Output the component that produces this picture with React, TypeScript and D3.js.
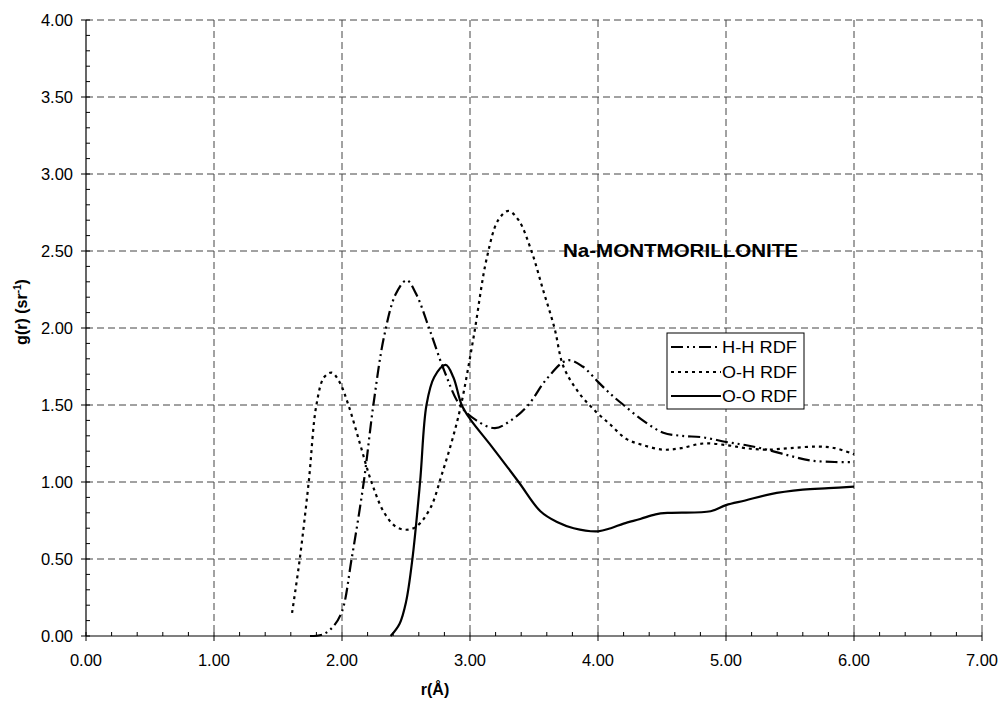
import React, { useEffect, useRef } from 'react';
import * as d3 from 'd3';

// r (Å) / g(r)
const hhR = [1.75, 1.85, 1.93, 2.0, 2.075, 2.17, 2.245, 2.33, 2.42, 2.505, 2.58, 2.68, 2.8, 2.92, 3.05, 3.195, 3.32, 3.455, 3.6, 3.76, 3.88, 4.0, 4.1, 4.2, 4.35, 4.51, 4.65, 4.82, 5.0, 5.15, 5.32, 5.5, 5.66, 5.85, 6.0];
const hhG = [0.0, 0.01, 0.06, 0.16, 0.5, 1.0, 1.5, 1.95, 2.22, 2.31, 2.22, 2.0, 1.72, 1.5, 1.4, 1.35, 1.4, 1.5, 1.67, 1.79, 1.75, 1.65, 1.57, 1.5, 1.4, 1.32, 1.3, 1.29, 1.26, 1.24, 1.21, 1.17, 1.14, 1.13, 1.13];

const ohR = [1.61, 1.67, 1.74, 1.8, 1.86, 1.92, 1.98, 2.05, 2.14, 2.23, 2.33, 2.42, 2.5, 2.58, 2.69, 2.78, 2.86, 2.93, 3.03, 3.13, 3.22, 3.3, 3.38, 3.48, 3.57, 3.66, 3.73, 3.85, 3.98, 4.1, 4.22, 4.35, 4.51, 4.65, 4.82, 5.0, 5.15, 5.32, 5.5, 5.71, 5.85, 6.0];
const ohG = [0.15, 0.5, 1.0, 1.5, 1.68, 1.71, 1.65, 1.5, 1.25, 1.0, 0.8, 0.71, 0.69, 0.71, 0.83, 1.05, 1.27, 1.5, 1.95, 2.45, 2.7, 2.76, 2.7, 2.5, 2.25, 2.0, 1.75, 1.58, 1.46, 1.37, 1.28, 1.24, 1.21, 1.22, 1.25, 1.24, 1.22, 1.21, 1.22, 1.23, 1.22, 1.18];

const ooR = [2.38, 2.45, 2.5, 2.55, 2.61, 2.66, 2.72, 2.81, 2.87, 2.935, 3.0, 3.17, 3.38, 3.55, 3.68, 3.81, 4.0, 4.1, 4.2, 4.33, 4.45, 4.56, 4.88, 5.0, 5.15, 5.34, 5.6, 5.8, 6.0];
const ooG = [0.0, 0.08, 0.22, 0.5, 1.0, 1.5, 1.68, 1.76, 1.68, 1.5, 1.41, 1.23, 1.0, 0.81, 0.74, 0.7, 0.68, 0.7, 0.73, 0.76, 0.79, 0.8, 0.81, 0.85, 0.88, 0.92, 0.95, 0.96, 0.97];

const seriesNames = ['H-H RDF', 'O-H RDF', 'O-O RDF'];
const xTicks = [0, 1, 2, 3, 4, 5, 6, 7];
const yTicks = [0, 0.5, 1, 1.5, 2, 2.5, 3, 3.5, 4];

const W = 1002;
const H = 703;

const App: React.FC = () => {
  const svgRef = useRef<SVGSVGElement>(null);

  useEffect(() => {
    if (!svgRef.current) return;
    const svg = d3.select(svgRef.current);
    svg.selectAll('*').remove();

    const x = d3.scaleLinear().domain([0, 7]).range([86, 982]);
    const y = d3.scaleLinear().domain([0, 4]).range([636, 20]);
    const fmt = d3.format('.2f');
    const font = "'Liberation Sans', Arial, Helvetica, sans-serif";

    svg.append('rect').attr('width', W).attr('height', H).style('fill', '#fff');

    // grid
    const grid = svg.append('g');
    grid.selectAll('.gx')
      .data(xTicks.slice(1))
      .enter()
      .append('line')
      .attr('x1', (d) => x(d))
      .attr('x2', (d) => x(d))
      .attr('y1', y(4))
      .attr('y2', y(0))
      .style('stroke', '#444')
      .style('stroke-width', 1)
      .style('stroke-dasharray', '7,4');
    grid.selectAll('.gy')
      .data(yTicks.slice(1))
      .enter()
      .append('line')
      .attr('x1', x(0))
      .attr('x2', x(7))
      .attr('y1', (d) => y(d))
      .attr('y2', (d) => y(d))
      .style('stroke', '#444')
      .style('stroke-width', 1)
      .style('stroke-dasharray', '7,4');

    // axes
    const ax = svg.append('g').style('stroke', '#000');
    ax.append('line').attr('x1', x(0)).attr('x2', x(7)).attr('y1', y(0)).attr('y2', y(0)).style('stroke-width', 1.2);
    ax.append('line').attr('x1', x(0)).attr('x2', x(0)).attr('y1', y(0)).attr('y2', y(4)).style('stroke-width', 1.2);

    const xMinor = d3.range(0, 35).map((i) => i * 0.2).filter((v) => Math.abs(v - Math.round(v)) > 1e-6);
    const yMinor = d3.range(0, 40).map((i) => i * 0.1).filter((v) => Math.abs(v * 2 - Math.round(v * 2)) > 1e-6);

    ax.selectAll('.xmin')
      .data(xMinor)
      .enter()
      .append('line')
      .attr('x1', (d) => x(d))
      .attr('x2', (d) => x(d))
      .attr('y1', y(0) - 4)
      .attr('y2', y(0));
    ax.selectAll('.xmaj')
      .data(xTicks)
      .enter()
      .append('line')
      .attr('x1', (d) => x(d))
      .attr('x2', (d) => x(d))
      .attr('y1', y(0) - 4)
      .attr('y2', y(0) + 5);
    ax.selectAll('.ymin')
      .data(yMinor)
      .enter()
      .append('line')
      .attr('x1', x(0))
      .attr('x2', x(0) + 4)
      .attr('y1', (d) => y(d))
      .attr('y2', (d) => y(d));
    ax.selectAll('.ymaj')
      .data(yTicks)
      .enter()
      .append('line')
      .attr('x1', x(0) - 5)
      .attr('x2', x(0) + 4)
      .attr('y1', (d) => y(d))
      .attr('y2', (d) => y(d));

    // tick labels
    svg.selectAll('.xl')
      .data(xTicks)
      .enter()
      .append('text')
      .attr('x', (d) => x(d))
      .attr('y', y(0) + 30)
      .attr('text-anchor', 'middle')
      .style('font-family', font)
      .style('font-size', '16.5px')
      .text((d) => fmt(d));
    svg.selectAll('.yl')
      .data(yTicks)
      .enter()
      .append('text')
      .attr('x', x(0) - 13)
      .attr('y', (d) => y(d) + 6)
      .attr('text-anchor', 'end')
      .style('font-family', font)
      .style('font-size', '16.5px')
      .text((d) => fmt(d));

    // axis titles
    svg.append('text')
      .attr('x', 435)
      .attr('y', 695)
      .attr('text-anchor', 'middle')
      .style('font-family', font)
      .style('font-size', '16px')
      .style('font-weight', 'bold')
      .text('r(Å)');

    const yt = svg.append('text')
      .attr('transform', 'translate(27,312) rotate(-90)')
      .attr('text-anchor', 'middle')
      .style('font-family', font)
      .style('font-size', '16px')
      .style('font-weight', 'bold');
    yt.append('tspan').text('g(r) (sr');
    yt.append('tspan').attr('dy', -6).style('font-size', '10px').text('-1');
    yt.append('tspan').attr('dy', 6).text(')');

    // curves
    const line = d3
      .line<[number, number]>()
      .x((d) => x(d[0]))
      .y((d) => y(d[1]))
      .curve(d3.curveCatmullRom.alpha(0.5));

    const series = [
      { pts: hhR.map((r, i) => [r, hhG[i]] as [number, number]), dash: '12,4,2,4,2,4' },
      { pts: ohR.map((r, i) => [r, ohG[i]] as [number, number]), dash: '3,4' },
      { pts: ooR.map((r, i) => [r, ooG[i]] as [number, number]), dash: 'none' },
    ];

    svg.selectAll('.curve')
      .data(series)
      .enter()
      .append('path')
      .attr('d', (d) => line(d.pts))
      .style('fill', 'none')
      .style('stroke', '#000')
      .style('stroke-width', 2.2)
      .style('stroke-dasharray', (d) => d.dash);

    // title
    svg.append('text')
      .attr('x', 563)
      .attr('y', 257)
      .attr('textLength', 235)
      .attr('lengthAdjust', 'spacingAndGlyphs')
      .style('font-family', font)
      .style('font-size', '19px')
      .style('font-weight', 'bold')
      .text('Na-MONTMORILLONITE');

    // legend
    const lg = svg.append('g');
    lg.append('rect')
      .attr('x', 667)
      .attr('y', 333)
      .attr('width', 137)
      .attr('height', 76)
      .style('fill', '#fff')
      .style('stroke', '#000')
      .style('stroke-width', 1);
    const rows = [347, 372, 396];
    series.forEach((s, i) => {
      lg.append('line')
        .attr('x1', 671)
        .attr('x2', 721)
        .attr('y1', rows[i])
        .attr('y2', rows[i])
        .style('stroke', '#000')
        .style('stroke-width', 2)
        .style('stroke-dasharray', s.dash);
      lg.append('text')
        .attr('x', 722)
        .attr('y', rows[i] + 6)
        .attr('textLength', 75)
        .attr('lengthAdjust', 'spacingAndGlyphs')
        .style('font-family', font)
        .style('font-size', '16px')
        .text(seriesNames[i]);
    });
  }, []);

  return (
    <svg
      ref={svgRef}
      width={W}
      height={H}
      style={{ position: 'absolute', left: 0, top: 0, background: '#fff' }}
    />
  );
};

export default App;
